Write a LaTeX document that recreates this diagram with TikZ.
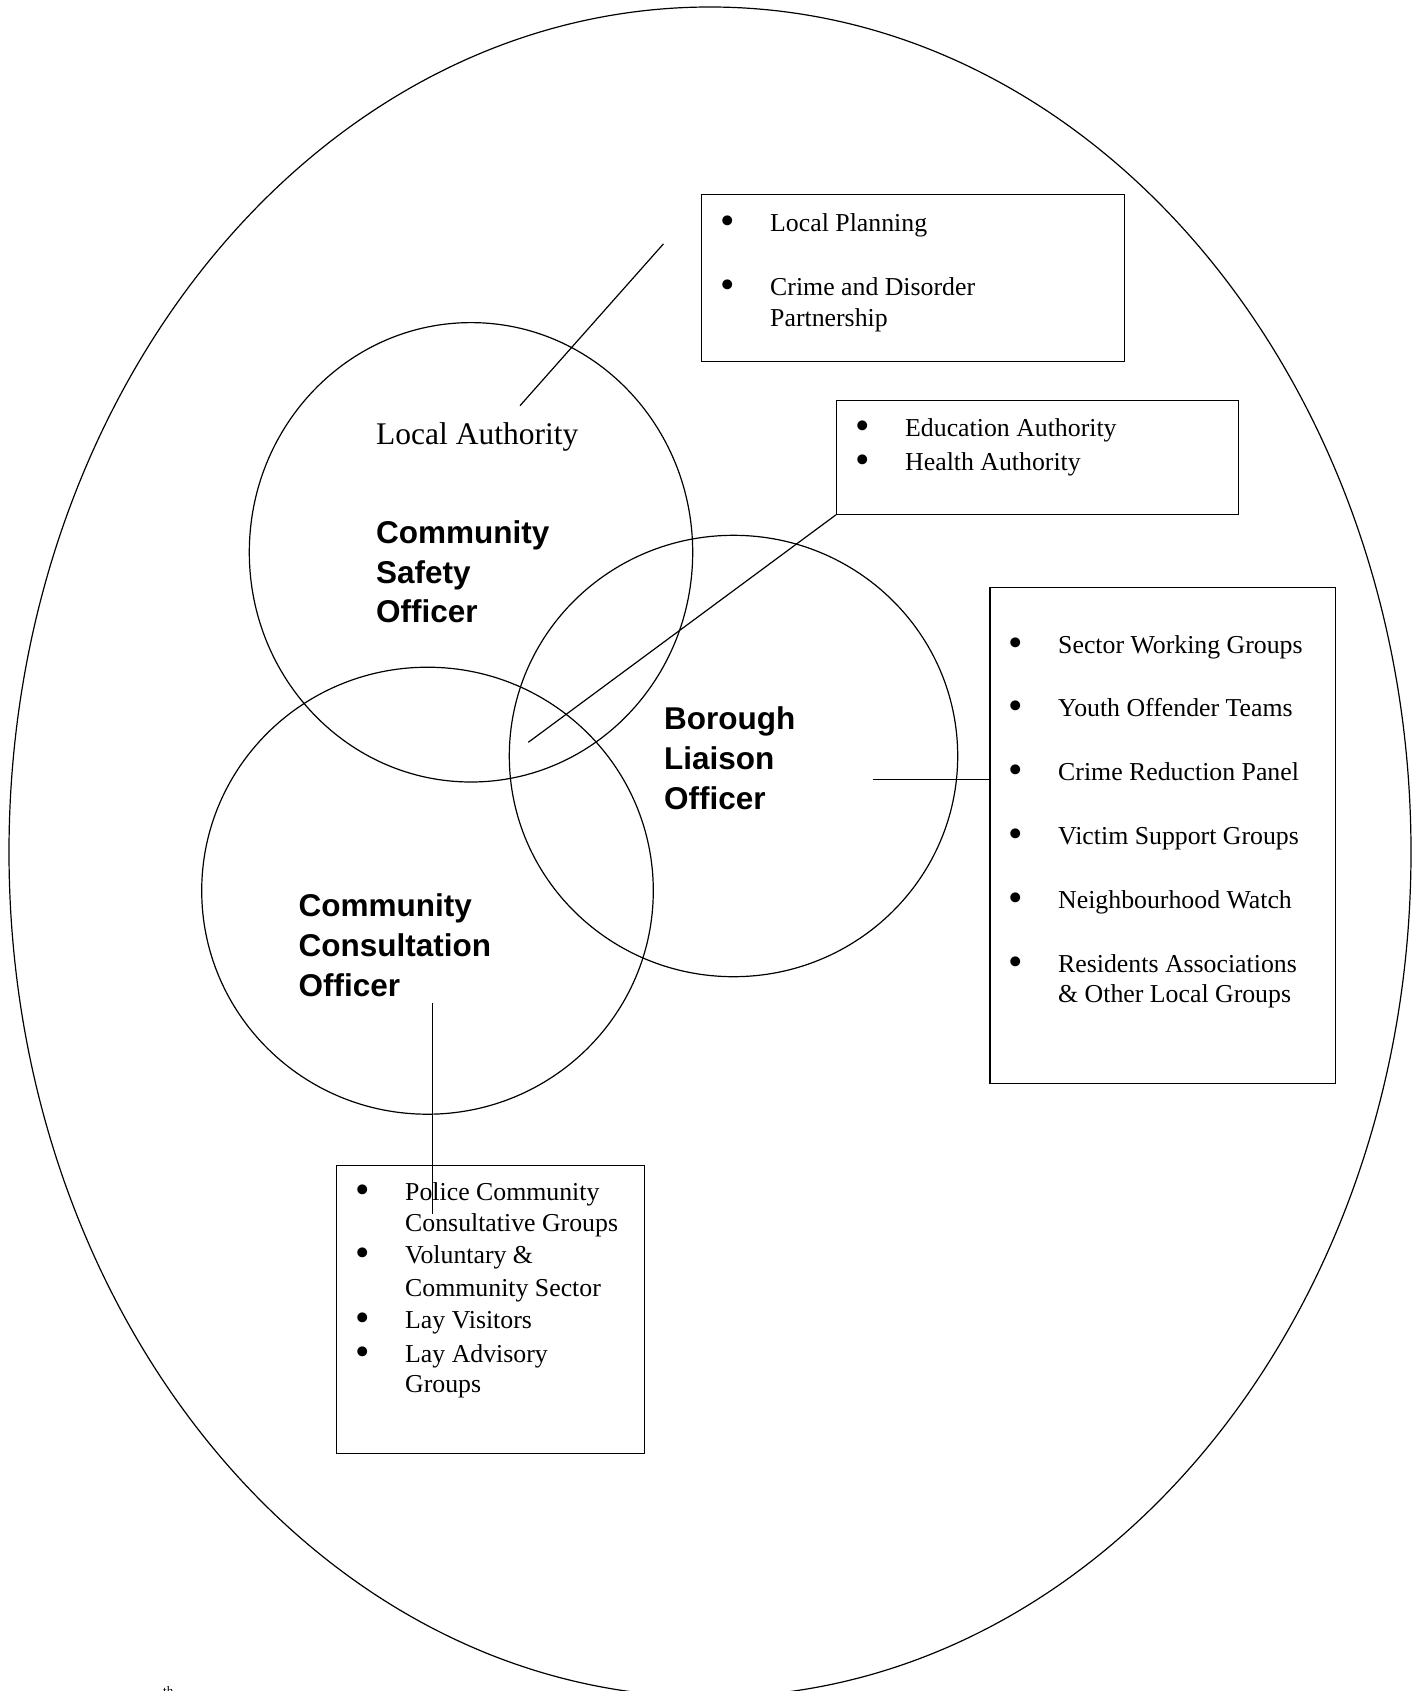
\documentclass[tikz,border=0pt]{standalone}
\usepackage{fontspec}
\setmainfont{Liberation Serif}
\newfontfamily\rolefont{Liberation Sans}
\usetikzlibrary{shapes.geometric}
\tikzset{
  frame/.style={draw, line width=1.3pt, rectangle, inner sep=0pt, anchor=north west},
  ring/.style={draw, ellipse, line width=1.2pt, inner sep=0pt},
  itemtxt/.style={anchor=base west, inner sep=0pt, font=\fontsize{25.8}{30}\selectfont},
  role/.style={anchor=base west, inner sep=0pt, font=\rolefont\bfseries\fontsize{31.5}{38}\selectfont},
  link/.style={line width=1.2pt}
}
\newcommand{\bul}{\llap{\smash{\raisebox{-3pt}{\scalebox{1.6}{\textbullet}}}\hspace{35pt}}}
\begin{document}
\begin{tikzpicture}[x=1pt,y=-1pt]
\useasboundingbox (0,0) rectangle (1424,1691);
% outer ellipse
\node[ring, minimum width=1402pt, minimum height=1690pt] (outer) at (710,852) {};
% circles
\node[ring, minimum width=443.4pt, minimum height=459.4pt] (cso) at (471,552.3) {};
\node[ring, minimum width=448.4pt, minimum height=441.4pt] (blo) at (733.5,756) {};
\node[ring, minimum width=451.6pt, minimum height=447pt] (cco) at (427.5,890.7) {};
% boxes
\node[frame, minimum width=423pt, minimum height=166.5pt] (boxA) at (701,194) {};
\node[frame, minimum width=402pt, minimum height=113.5pt] (boxB) at (836,400) {};
\node[frame, minimum width=345.5pt, minimum height=496.5pt] (boxC) at (989.3,586.5) {};
\node[frame, minimum width=308pt, minimum height=288pt] (boxD) at (336,1165) {};
% box A text
\node[itemtxt] (a1) at (770,231) {\bul Local Planning};
\node[itemtxt] (a2) at (770,295) {\bul Crime and Disorder};
\node[itemtxt] (a3) at (770,326.5) {Partnership};
% box B text
\node[itemtxt] (b1) at (905,436) {\bul Education Authority};
\node[itemtxt] (b2) at (905,470) {\bul Health Authority};
% box C text
\node[itemtxt] (c1) at (1058,653) {\bul Sector Working Groups};
\node[itemtxt] (c2) at (1058,716.5) {\bul Youth Offender Teams};
\node[itemtxt] (c3) at (1058,780) {\bul Crime Reduction Panel};
\node[itemtxt] (c4) at (1058,844) {\bul Victim Support Groups};
\node[itemtxt] (c5) at (1058,908) {\bul Neighbourhood Watch};
\node[itemtxt] (c6) at (1058,972) {\bul Residents Associations};
\node[itemtxt] (c7) at (1058,1002.5) {\& Other Local Groups};
% box D text
\node[itemtxt] (d1) at (405,1200.5) {\bul Police Community};
\node[itemtxt] (d2) at (405,1231) {Consultative Groups};
\node[itemtxt] (d3) at (405,1263.5) {\bul Voluntary \&};
\node[itemtxt] (d4) at (405,1296) {Community Sector};
\node[itemtxt] (d5) at (405,1328) {\bul Lay Visitors};
\node[itemtxt] (d6) at (405,1362) {\bul Lay Advisory};
\node[itemtxt] (d7) at (405,1392) {Groups};
% labels in circles
\node[anchor=base west, inner sep=0pt, font=\fontsize{31.5}{38}\selectfont] (la) at (376,444) {Local Authority};
\node[role] (cso1) at (376,543.5) {Community};
\node[role] (cso2) at (376,583) {Safety};
\node[role] (cso3) at (376,622) {Officer};
\node[role] (blo1) at (664,729.5) {Borough};
\node[role] (blo2) at (664,769.5) {Liaison};
\node[role] (blo3) at (664,809) {Officer};
\node[role] (cco1) at (298.5,916.5) {Community};
\node[role] (cco2) at (298.5,956.5) {Consultation};
\node[role] (cco3) at (298.5,996.5) {Officer};
% connectors
\coordinate (l1a) at (520,405.7);
\coordinate (l1b) at (663.5,243.8);
\coordinate (l2a) at (528.3,742.3);
\coordinate (l3a) at (873.3,779.3);
\coordinate (l4a) at (432.3,1003.3);
\coordinate (l4b) at (432.3,1214);
\draw[link] (l1a) -- (l1b);
\draw[link] (l2a) -- (boxB.south west);
\draw[link] (l3a) -- (l3a -| boxC.west);
\draw[link] (l4a) -- (l4b);
% footer fragment
\node[anchor=north west, inner sep=0pt, font=\fontsize{13}{15}\selectfont] (th) at (163,1686) {th};
\end{tikzpicture}
\end{document}
